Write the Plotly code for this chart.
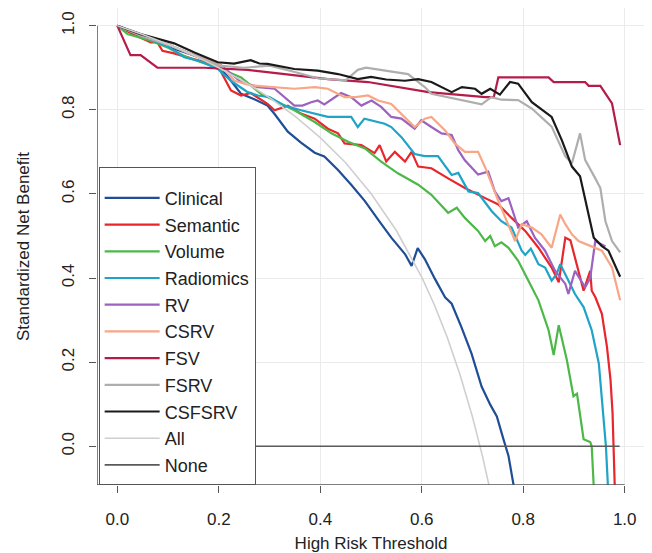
import plotly.graph_objects as go

# ---- data ----
clinical_x = [0, 0.05, 0.1, 0.15, 0.2, 0.224, 0.244, 0.27, 0.296, 0.31, 0.336, 0.362, 0.389, 0.408, 0.435, 0.461,
              0.488, 0.514, 0.54, 0.567, 0.58, 0.592, 0.606, 0.626, 0.646, 0.659, 0.678, 0.698, 0.718, 0.735, 0.748,
              0.761, 0.771, 0.785]
clinical_y = [1.0, 0.975, 0.95, 0.93, 0.905, 0.869, 0.838, 0.825, 0.81, 0.79, 0.748, 0.722, 0.698, 0.689, 0.657, 0.622,
              0.583, 0.539, 0.496, 0.457, 0.429, 0.471, 0.445, 0.398, 0.354, 0.339, 0.284, 0.221, 0.142, 0.099, 0.071,
              0.017, -0.023, -0.12]

semantic_x = [0, 0.03, 0.066, 0.079, 0.089, 0.112, 0.152, 0.198, 0.224, 0.244, 0.263, 0.296, 0.31, 0.336, 0.362, 0.389,
              0.415, 0.435, 0.448, 0.474, 0.481, 0.507, 0.517, 0.53, 0.547, 0.567, 0.58, 0.593, 0.619, 0.652, 0.685,
              0.725, 0.751, 0.777, 0.804, 0.83, 0.856, 0.87, 0.883, 0.893, 0.912, 0.919, 0.932, 0.935, 0.942, 0.955,
              0.965, 0.972, 0.976, 0.978, 0.981]
semantic_y = [1.0, 0.98, 0.96, 0.96, 0.94, 0.934, 0.92, 0.905, 0.846, 0.834, 0.84, 0.814, 0.799, 0.81, 0.791, 0.779,
              0.755, 0.744, 0.72, 0.716, 0.716, 0.697, 0.716, 0.677, 0.70, 0.677, 0.70, 0.665, 0.661, 0.637, 0.614,
              0.59, 0.575, 0.543, 0.512, 0.472, 0.425, 0.39, 0.496, 0.49, 0.402, 0.37, 0.417, 0.37, 0.355, 0.315,
              0.237, 0.158, 0.08, 0.0, -0.12]

volume_x = [0, 0.02, 0.066, 0.099, 0.132, 0.165, 0.198, 0.244, 0.283, 0.349, 0.389, 0.422, 0.455, 0.488, 0.52, 0.553,
            0.593, 0.619, 0.652, 0.669, 0.685, 0.711, 0.725, 0.735, 0.744, 0.757, 0.771, 0.79, 0.81, 0.83, 0.85, 0.86,
            0.87, 0.886, 0.899, 0.906, 0.919, 0.932, 0.935, 0.94]
volume_y = [1.0, 0.98, 0.964, 0.948, 0.928, 0.913, 0.90, 0.877, 0.838, 0.799, 0.771, 0.744, 0.724, 0.708, 0.677, 0.649,
            0.622, 0.598, 0.555, 0.567, 0.543, 0.512, 0.488, 0.50, 0.476, 0.485, 0.472, 0.441, 0.394, 0.347, 0.276,
            0.217, 0.288, 0.205, 0.119, 0.125, 0.017, 0.01, 0.0, -0.12]

radiomics_x = [0, 0.05, 0.1, 0.132, 0.165, 0.198, 0.224, 0.257, 0.277, 0.3, 0.329, 0.362, 0.389, 0.415, 0.461, 0.474,
               0.487, 0.527, 0.54, 0.56, 0.586, 0.606, 0.632, 0.659, 0.672, 0.692, 0.711, 0.738, 0.757, 0.777, 0.797,
               0.804, 0.815, 0.83, 0.843, 0.856, 0.866, 0.873, 0.889, 0.902, 0.919, 0.935, 0.949, 0.958, 0.963, 0.968]
radiomics_y = [1.0, 0.975, 0.95, 0.925, 0.915, 0.897, 0.869, 0.842, 0.834, 0.83, 0.81, 0.799, 0.791, 0.783, 0.783, 0.759,
               0.779, 0.767, 0.759, 0.735, 0.695, 0.69, 0.69, 0.645, 0.65, 0.606, 0.602, 0.559, 0.535, 0.52, 0.465,
               0.455, 0.47, 0.433, 0.425, 0.394, 0.41, 0.433, 0.394, 0.362, 0.331, 0.276, 0.197, 0.079, 0.0, -0.12]

rv_x = [0, 0.05, 0.1, 0.15, 0.2, 0.244, 0.277, 0.31, 0.349, 0.365, 0.382, 0.395, 0.408, 0.441, 0.461, 0.481, 0.501,
        0.52, 0.54, 0.56, 0.586, 0.599, 0.619, 0.639, 0.659, 0.672, 0.685, 0.711, 0.731, 0.744, 0.757, 0.771, 0.79,
        0.807, 0.823, 0.843, 0.863, 0.883, 0.889, 0.902, 0.922, 0.932, 0.942, 0.962]
rv_y = [1.0, 0.975, 0.955, 0.93, 0.91, 0.866, 0.854, 0.85, 0.81, 0.81, 0.818, 0.822, 0.813, 0.84, 0.83, 0.81, 0.822,
        0.807, 0.783, 0.779, 0.755, 0.775, 0.759, 0.744, 0.74, 0.704, 0.68, 0.646, 0.653, 0.606, 0.583, 0.59, 0.52,
        0.535, 0.496, 0.465, 0.417, 0.386, 0.362, 0.417, 0.378, 0.40, 0.488, 0.475]

csrv_x = [0, 0.05, 0.1, 0.15, 0.2, 0.231, 0.263, 0.31, 0.349, 0.389, 0.415, 0.448, 0.47, 0.494, 0.514, 0.54, 0.567,
          0.586, 0.606, 0.619, 0.646, 0.665, 0.685, 0.711, 0.725, 0.751, 0.784, 0.797, 0.817, 0.836, 0.856, 0.873,
          0.883, 0.896, 0.909, 0.935, 0.955, 0.975, 0.991]
csrv_y = [1.0, 0.975, 0.955, 0.93, 0.91, 0.869, 0.858, 0.854, 0.85, 0.854, 0.85, 0.83, 0.83, 0.834, 0.822, 0.814, 0.783,
          0.759, 0.779, 0.783, 0.751, 0.72, 0.70, 0.70, 0.663, 0.583, 0.488, 0.528, 0.52, 0.504, 0.472, 0.551, 0.528,
          0.504, 0.488, 0.476, 0.465, 0.425, 0.347]

fsv_x = [0, 0.026, 0.046, 0.079, 0.171, 0.257, 0.33, 0.415, 0.494, 0.613, 0.725, 0.742, 0.751, 0.85, 0.86, 0.922,
         0.929, 0.952, 0.975, 0.991]
fsv_y = [1.0, 0.93, 0.93, 0.90, 0.90, 0.895, 0.885, 0.873, 0.866, 0.842, 0.83, 0.83, 0.877, 0.877, 0.866, 0.866, 0.857,
         0.857, 0.815, 0.716]

fsrv_x = [0, 0.05, 0.1, 0.15, 0.2, 0.25, 0.3, 0.35, 0.395, 0.45, 0.474, 0.49, 0.573, 0.606, 0.619, 0.718, 0.737,
          0.757, 0.79, 0.817, 0.856, 0.883, 0.896, 0.912, 0.922, 0.942, 0.952, 0.962, 0.975, 0.991]
fsrv_y = [1.0, 0.975, 0.955, 0.93, 0.905, 0.9, 0.905, 0.89, 0.875, 0.87, 0.895, 0.9, 0.885, 0.854, 0.838, 0.813, 0.83,
          0.824, 0.823, 0.803, 0.76, 0.689, 0.673, 0.744, 0.681, 0.637, 0.614, 0.535, 0.488, 0.461]

csfsrv_x = [0, 0.046, 0.112, 0.152, 0.198, 0.23, 0.263, 0.28, 0.296, 0.349, 0.395, 0.435, 0.474, 0.5, 0.53, 0.567,
            0.593, 0.619, 0.659, 0.679, 0.705, 0.718, 0.735, 0.754, 0.774, 0.79, 0.817, 0.843, 0.856, 0.876, 0.896,
            0.912, 0.922, 0.939, 0.955, 0.968, 0.991]
csfsrv_y = [1.0, 0.98, 0.958, 0.936, 0.913, 0.91, 0.918, 0.91, 0.909, 0.897, 0.893, 0.885, 0.873, 0.878, 0.872, 0.869,
            0.873, 0.866, 0.842, 0.854, 0.85, 0.838, 0.85, 0.836, 0.866, 0.862, 0.818, 0.795, 0.783, 0.728, 0.665,
            0.642, 0.586, 0.496, 0.476, 0.465, 0.403]

all_x = [0, 0.05, 0.1, 0.15, 0.2, 0.25, 0.3, 0.35, 0.4, 0.45, 0.5, 0.55, 0.6, 0.625, 0.65, 0.675, 0.7, 0.71, 0.72,
         0.735]
all_y = [1.0, 0.979, 0.956, 0.930, 0.900, 0.867, 0.829, 0.785, 0.734, 0.674, 0.601, 0.513, 0.402, 0.336, 0.26, 0.172,
         0.07, 0.024, -0.025, -0.106]

none_x = [0, 0.99]
none_y = [0, 0]

series_names = ["Clinical", "Semantic", "Volume", "Radiomics", "RV", "CSRV", "FSV", "FSRV", "CSFSRV", "All", "None"]
series_x = [clinical_x, semantic_x, volume_x, radiomics_x, rv_x, csrv_x, fsv_x, fsrv_x, csfsrv_x, all_x, none_x]
series_y = [clinical_y, semantic_y, volume_y, radiomics_y, rv_y, csrv_y, fsv_y, fsrv_y, csfsrv_y, all_y, none_y]
series_colors = ["#1F4E96", "#E8262B", "#4DB848", "#1FA3C6", "#9B62BF", "#F7A686", "#B51C4A", "#AEAEAE",
                 "#1A1A1A", "#CFCFCF", "#5A5A5A"]
series_widths = [2.2, 2.2, 2.2, 2.2, 2.2, 2.2, 2.2, 2.2, 2.2, 1.6, 1.6]

x_ticks = [0.0, 0.2, 0.4, 0.6, 0.8, 1.0]
y_ticks = [0.0, 0.2, 0.4, 0.6, 0.8, 1.0]

XR = [-0.04, 1.04]
YR = [-0.092, 1.042]

fig = go.Figure()
for i, (n, xs, ys, c, w) in enumerate(zip(series_names, series_x, series_y, series_colors, series_widths)):
    fig.add_trace(go.Scatter(x=xs, y=ys, mode="lines", name=n, legendgroup=n,
                             line=dict(color=c, width=w)))

axis_col = "#555555"
font_fam = "Liberation Sans, Arial, sans-serif"
# the page body has an 8px default margin, so the figure is sized to fit the 652x553 window
fig.update_layout(
    width=644, height=545,
    margin=dict(l=89, r=7, t=0, b=68, autoexpand=False),
    plot_bgcolor="white", paper_bgcolor="white",
    font=dict(family=font_fam, size=17, color="#222222"),
    showlegend=True,
    legend=dict(x=0.003, y=0.0, xanchor="left", yanchor="bottom",
                bgcolor="white", bordercolor=axis_col, borderwidth=1,
                font=dict(size=18, color="#222222"),
                itemwidth=55, traceorder="grouped", tracegroupgap=0.3,
                title=dict(text=" ", font=dict(size=9))),
    xaxis=dict(range=XR, tickvals=x_ticks, ticktext=[f"{v:.1f}" for v in x_ticks],
               showgrid=True, gridcolor="#EBEBEB", gridwidth=1, zeroline=False, automargin=False,
               showline=False, ticks="outside", ticklen=7, tickcolor=axis_col,
               ticklabelstandoff=12, tickfont=dict(size=17),
               title=dict(text="High Risk Threshold", standoff=10, font=dict(size=17))),
    yaxis=dict(range=YR, tickvals=y_ticks, ticktext=[f"{v:.1f}" for v in y_ticks],
               showgrid=True, gridcolor="#EBEBEB", gridwidth=1, zeroline=False, automargin=False,
               showline=False, ticks="outside", ticklen=7, tickcolor=axis_col,
               tickangle=-90, ticklabelstandoff=8, tickfont=dict(size=17),
               title=dict(text="Standardized Net Benefit", standoff=25, font=dict(size=17))),
    shapes=[
        dict(type="line", xref="x", yref="y", x0=XR[0], x1=1.0, y0=YR[0], y1=YR[0],
             line=dict(color=axis_col, width=1.5)),
        dict(type="line", xref="x", yref="y", x0=XR[0], x1=XR[0], y0=YR[0], y1=1.0,
             line=dict(color=axis_col, width=1.5)),
    ],
)

fig.write_html("out.html")
